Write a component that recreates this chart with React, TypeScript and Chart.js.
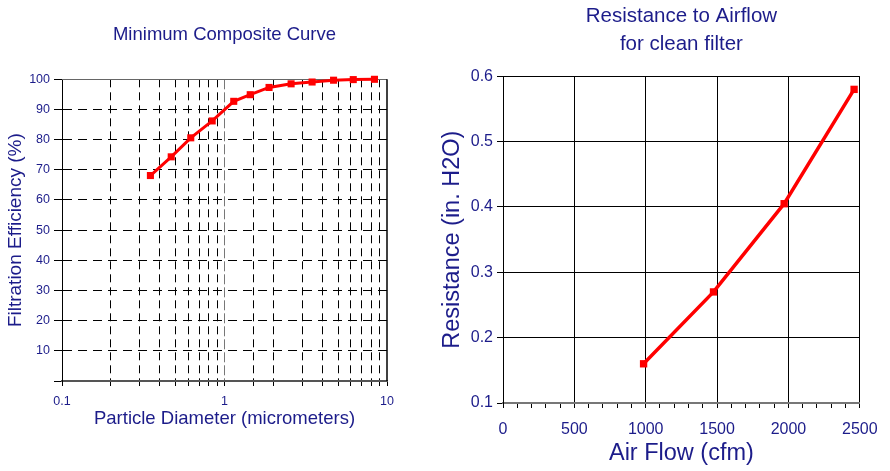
import React, { useEffect, useRef } from 'react';
import { Chart, registerables } from 'chart.js';

Chart.register(...registerables);

const FONT = "'Liberation Sans', Arial, Helvetica, sans-serif";
const NAVY = '#1c1c8a';
const RED = '#ff0000';

// Left chart: Minimum Composite Curve
const particleDiameters = [0.35, 0.47, 0.62, 0.84, 1.14, 1.44, 1.88, 2.57, 3.46, 4.69, 6.2, 8.37];
const filtrationEfficiency = [68.1, 74.3, 80.6, 86.2, 92.7, 94.9, 97.3, 98.5, 99.1, 99.7, 99.9, 100];
const diameterTickLabels = [0.1, 1, 10];

// Right chart: Resistance to Airflow
const airFlowCfm = [985, 1475, 1970, 2460];
const resistanceInH2O = [0.16, 0.27, 0.405, 0.58];
const airFlowTickLabels = [0, 500, 1000, 1500, 2000, 2500];

const near = (a: number, b: number) => Math.abs(a - b) < 1e-6 * Math.max(1, Math.abs(b));

// Center the chart title over the plot area (as in the reference)
const centerTitle = {
  id: 'centerTitle',
  afterLayout(chart: any) {
    const t = chart.titleBlock;
    if (!t) return;
    t.left = chart.chartArea.left;
    t.right = chart.chartArea.right;
    t.width = t.right - t.left;
  },
};

const leftFrame = {
  id: 'leftFrame',
  beforeDatasetsDraw(chart: any) {
    const { ctx, chartArea: a } = chart;
    ctx.save();
    ctx.strokeStyle = '#666';
    ctx.lineWidth = 1;
    ctx.beginPath();
    ctx.moveTo(a.left, Math.round(a.top) + 0.5);
    ctx.lineTo(a.right, Math.round(a.top) + 0.5);
    ctx.stroke();
    ctx.strokeStyle = '#000';
    ctx.lineWidth = 1.5;
    ctx.beginPath();
    ctx.moveTo(Math.round(a.right), a.top);
    ctx.lineTo(Math.round(a.right), a.bottom);
    ctx.stroke();
    ctx.restore();
  },
};

function LeftChart() {
  const ref = useRef<HTMLCanvasElement | null>(null);
  useEffect(() => {
    if (!ref.current) return;
    const chart = new Chart(ref.current, {
      type: 'line',
      data: {
        datasets: [
          {
            data: particleDiameters.map((x, i) => ({ x, y: filtrationEfficiency[i] })),
            borderColor: RED,
            backgroundColor: RED,
            borderWidth: 3,
            pointStyle: 'rect',
            pointRadius: 5,
            pointBorderWidth: 0,
            pointBackgroundColor: RED,
            tension: 0,
            clip: false,
          } as any,
        ],
      },
      options: {
        animation: false,
        responsive: false,
        devicePixelRatio: 1,
        layout: { padding: { left: 0, right: 43, top: 0, bottom: 0 } },
        plugins: {
          legend: { display: false },
          tooltip: { enabled: false },
          title: {
            display: true,
            text: 'Minimum Composite Curve',
            color: NAVY,
            font: { family: FONT, size: 18.5, weight: 'normal', lineHeight: 1.2 },
            padding: { top: 23.9, bottom: 33.2 },
          },
        },
        scales: {
          x: {
            type: 'logarithmic',
            min: 0.1,
            max: 10,
            afterFit: (s: any) => {
              s.height = 90;
            },
            ticks: {
              autoSkip: false,
              maxRotation: 0,
              minRotation: 0,
              padding: 8.3,
              color: NAVY,
              font: { family: FONT, size: 12.5 },
              callback: (v: any) => {
                const n = Number(v);
                const hit = diameterTickLabels.find((t) => near(n, t));
                return hit !== undefined ? String(hit) : '';
              },
            },
            grid: {
              color: (c: any) => {
                const v = c.tick ? c.tick.value : undefined;
                if (v === undefined) return '#000';
                if (near(v, 0.1) || near(v, 10)) return 'rgba(0,0,0,0)';
                if (near(v, 1)) return '#777';
                return '#000';
              },
              tickColor: '#000',
              tickLength: 5,
              lineWidth: 1,
            },
            border: {
              color: '#555',
              width: 2,
              dash: (c: any) => (c.tick && near(c.tick.value, 1) ? [10, 3] : [8, 5]),
            },
            title: {
              display: true,
              text: 'Particle Diameter (micrometers)',
              color: NAVY,
              font: { family: FONT, size: 18.5, lineHeight: 1.2 },
              padding: { top: 0, bottom: 40.6 },
            },
          } as any,
          y: {
            min: 0,
            max: 100,
            afterFit: (s: any) => {
              s.width = 62;
            },
            ticks: {
              stepSize: 10,
              padding: 4,
              color: NAVY,
              font: { family: FONT, size: 12.5 },
              callback: (v: any) => (Number(v) === 0 ? '' : String(v)),
            },
            grid: {
              color: (c: any) =>
                c.tick && (c.tick.value === 0 || c.tick.value === 100) ? 'rgba(0,0,0,0)' : '#000',
              tickColor: '#000',
              tickLength: 8,
              lineWidth: 1,
            },
            border: { color: '#000', width: 1, dash: [9, 6] },
            title: {
              display: true,
              text: 'Filtration Efficiency (%)',
              color: NAVY,
              font: { family: FONT, size: 19, lineHeight: 1.2 },
              padding: { top: 4.6, bottom: 0 },
            },
          } as any,
        },
      },
      plugins: [leftFrame, centerTitle],
    } as any);
    return () => chart.destroy();
  }, []);
  return (
    <canvas
      ref={ref}
      width={430}
      height={471}
      style={{ position: 'absolute', left: 0, top: 0, width: 430, height: 471, display: 'block' }}
    />
  );
}

function RightChart() {
  const ref = useRef<HTMLCanvasElement | null>(null);
  useEffect(() => {
    if (!ref.current) return;
    const chart = new Chart(ref.current, {
      type: 'line',
      data: {
        datasets: [
          {
            data: airFlowCfm.map((x, i) => ({ x, y: resistanceInH2O[i] })),
            borderColor: RED,
            backgroundColor: RED,
            borderWidth: 3.5,
            pointStyle: 'rect',
            pointRadius: 5.2,
            pointBorderWidth: 0,
            pointBackgroundColor: RED,
            tension: 0,
            clip: false,
          } as any,
        ],
      },
      options: {
        animation: false,
        responsive: false,
        devicePixelRatio: 1,
        layout: { padding: { left: 0, right: 21, top: 0, bottom: 0 } },
        plugins: {
          legend: { display: false },
          tooltip: { enabled: false },
          title: {
            display: true,
            text: ['Resistance to Airflow', 'for clean filter'],
            color: NAVY,
            font: { family: FONT, size: 20.5, weight: 'normal', lineHeight: 1.366 },
            padding: { top: 2, bottom: 18.3 },
          },
        },
        scales: {
          x: {
            type: 'linear',
            min: 0,
            max: 2500,
            afterFit: (s: any) => {
              s.height = 68;
            },
            ticks: {
              stepSize: 100,
              maxTicksLimit: 100,
              autoSkip: false,
              maxRotation: 0,
              minRotation: 0,
              padding: 12.4,
              color: NAVY,
              font: { family: FONT, size: 16 },
              callback: (v: any) => {
                const n = Math.round(Number(v));
                return airFlowTickLabels.includes(n) ? String(n) : '';
              },
            },
            grid: {
              color: (c: any) => {
                if (!c.tick) return '#000';
                const n = Math.round(c.tick.value);
                return n !== 0 && n % 500 === 0 ? '#000' : 'rgba(0,0,0,0)';
              },
              tickColor: '#000',
              tickLength: 5,
              lineWidth: 1,
            },
            border: { color: '#777', width: 2 },
            title: {
              display: true,
              text: 'Air Flow (cfm)',
              color: NAVY,
              font: { family: FONT, size: 23.5, lineHeight: 1.2 },
              padding: { top: 0, bottom: 3.6 },
            },
          } as any,
          y: {
            min: 0.1,
            max: 0.6,
            afterFit: (s: any) => {
              s.width = 73;
            },
            ticks: {
              stepSize: 0.1,
              padding: 4,
              color: NAVY,
              font: { family: FONT, size: 16 },
              callback: (v: any) => Number(v).toFixed(1),
            },
            grid: {
              color: (c: any) => (c.tick && near(c.tick.value, 0.1) ? 'rgba(0,0,0,0)' : '#000'),
              tickColor: '#000',
              tickLength: 6,
              lineWidth: 1,
            },
            border: { color: '#000', width: 1 },
            title: {
              display: true,
              text: 'Resistance (in. H2O)',
              color: NAVY,
              font: { family: FONT, size: 23.5, lineHeight: 1.2 },
              padding: { top: 8.4, bottom: 0 },
            },
          } as any,
        },
      },
      plugins: [centerTitle],
    } as any);
    return () => chart.destroy();
  }, []);
  return (
    <canvas
      ref={ref}
      width={460}
      height={471}
      style={{ position: 'absolute', left: 430, top: 0, width: 460, height: 471, display: 'block' }}
    />
  );
}

export default function App() {
  return (
    <div style={{ position: 'absolute', left: 0, top: 0, width: 890, height: 471, background: '#fff', overflow: 'hidden' }}>
      <LeftChart />
      <RightChart />
    </div>
  );
}
